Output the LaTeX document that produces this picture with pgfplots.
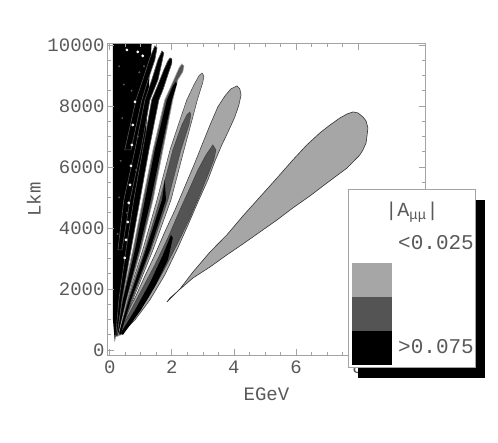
\documentclass[border=0pt]{standalone}
\usepackage{pgfplots}
\pgfplotsset{compat=1.18}
\usepackage{fontspec}
\setmainfont{Liberation Mono}
\definecolor{lightg}{gray}{0.65}
\definecolor{darkg}{gray}{0.33}
\definecolor{framec}{gray}{0.64}
\definecolor{txt}{gray}{0.35}

\begin{document}
\begin{tikzpicture}[x=1pt,y=1pt]
\useasboundingbox (-108,-87) rectangle (390,355);
\begin{axis}[
  at={(0,0)}, anchor=south west,
  scale only axis, width=317pt, height=311pt,
  xmin=-0.06, xmax=10.16, ymin=-165, ymax=10030,
  axis line style={framec, line width=1pt},
  tick style={framec, line width=0.8pt},
  tick align=inside, tick pos=both,
  major tick length=6pt, minor tick length=3pt,
  xtick={0,2,...,8}, ytick={0,2000,...,10000},
  minor x tick num=3, minor y tick num=3,
  scaled ticks=false,
  /pgf/number format/assume math mode=true,
  /pgf/number format/1000 sep={},
  ticklabel style={font=\fontsize{19}{20}\selectfont, text=txt},
  xticklabel style={yshift=-2pt},
  xlabel={EGeV}, ylabel={Lkm},
  label style={font=\fontsize{19}{20}\selectfont, text=txt},
  xlabel style={yshift=-7pt},
  axis on top,
]
% lobe 1
\addplot[fill=lightg, draw=black!80, line width=0.6pt] coordinates {
(1.84,1574) (2.26,2000) (2.68,2557) (3.23,3213) (3.77,3770) (4.29,4393)
(4.84,5016) (5.39,5639) (5.90,6230) (6.35,6721) (6.77,7115) (7.10,7377)
(7.42,7607) (7.65,7738) (7.84,7803) (8.00,7770) (8.16,7639) (8.26,7508)
(8.32,7279) (8.29,7016) (8.26,6787) (8.16,6557) (8.06,6393) (7.65,5967)
(7.00,5475) (6.45,5049) (5.90,4656) (5.39,4262) (4.84,3869) (4.29,3475)
(3.77,3115) (3.23,2721) (2.68,2361) (2.16,1902) (1.94,1705)
} -- cycle;
% lobe 2
\addplot[fill=lightg, draw=black!75, line width=0.6pt] coordinates {
(0.26,557) (0.48,1049) (0.81,1705) (1.13,2426) (1.45,3115) (1.77,3869)
(2.10,4590) (2.48,5508) (2.74,6131) (2.97,6721) (3.23,7377) (3.48,7967)
(3.71,8328) (3.90,8557) (4.10,8656) (4.19,8557) (4.23,8361) (4.16,8033)
(4.03,7639) (3.84,7213) (3.61,6721) (3.39,6197) (3.16,5574) (2.84,4852)
(2.52,4098) (2.19,3344) (1.77,2459) (1.29,1639) (0.81,984) (0.39,557)
} -- cycle;
\addplot[fill=darkg, draw=black!75, line width=0.5pt] coordinates {
(3.32,6721) (3.42,6557) (3.35,6230) (3.16,5738) (2.90,5082) (2.58,4328)
(2.19,3508) (1.71,2557) (1.23,1705) (0.71,918) (0.35,492) (0.29,557)
(0.48,918) (0.97,1869) (1.45,2787) (1.87,3672) (2.26,4590) (2.58,5311)
(2.84,5902) (3.10,6393)
} -- cycle;
\addplot[fill=black, draw=none] coordinates {
(1.97,3770) (1.71,3115) (1.29,2197) (0.81,1311) (0.35,557)
(0.42,492) (1.00,1311) (1.48,2131) (1.87,2951) (2.03,3672)
} -- cycle;
% lobe 3
\addplot[fill=lightg, draw=black!75, line width=0.5pt] coordinates {
(0.23,459) (0.55,1639) (1.06,3279) (1.52,4918) (1.94,6557) (2.26,7541)
(2.48,8197) (2.71,8689) (2.87,8984) (2.97,9082) (3.03,8984) (3.00,8787)
(2.94,8590) (2.82,8197) (2.65,7541) (2.39,6557) (1.97,4918) (1.39,3279)
(0.74,1639) (0.29,459)
} -- cycle;
\addplot[fill=darkg, draw=black!75, line width=0.4pt] coordinates {
(0.29,525) (0.58,1639) (1.13,3279) (1.61,4918) (2.03,6557) (2.32,7377)
(2.48,7705) (2.58,7803) (2.61,7705) (2.55,7377) (2.29,6557) (1.87,4918)
(1.32,3279) (0.71,1639) (0.32,492)
} -- cycle;
\addplot[fill=black, draw=none] coordinates {
(1.77,5574) (1.68,4918) (1.16,3279) (0.61,1639) (0.29,557)
(0.35,525) (0.68,1639) (1.29,3279) (1.81,4918)
} -- cycle;
% lobe 4
\addplot[fill=darkg, draw=lightg, line width=0.6pt] coordinates {
(0.19,459) (0.39,1639) (0.74,3279) (1.06,4918) (1.39,6557) (1.77,8197)
(2.06,8852) (2.23,9246) (2.32,9377) (2.39,9311) (2.35,9115) (2.19,8852)
(2.03,8197) (1.71,6557) (1.39,4918) (1.00,3279) (0.55,1639) (0.26,459)
} -- cycle;
\addplot[fill=black, draw=none] coordinates {
(0.23,492) (0.42,1639) (0.81,3279) (1.13,4918) (1.45,6557) (1.84,8197)
(2.03,8656) (2.13,8787) (2.16,8721) (2.00,8197) (1.65,6557) (1.32,4918)
(0.94,3279) (0.52,1639) (0.26,492)
} -- cycle;
% dense region of narrow lobes
\addplot[fill=black, draw=none] coordinates {
(0.10,10100) (1.35,10100) (1.23,8197) (1.13,6557) (0.90,4918) (0.65,3279)
(0.35,1639) (0.19,492) (0.16,262) (0.10,984)
} -- cycle;
% lobe 5
\addplot[fill=black, draw=darkg, line width=0.6pt] coordinates {
(0.19,459) (0.29,1639) (0.52,3279) (0.77,4918) (1.06,6557) (1.35,8197)
(1.55,8689) (1.74,9180) (1.87,9475) (1.94,9574) (2.00,9541) (2.00,9410)
(1.87,9016) (1.71,8525) (1.58,8197) (1.26,6557) (0.97,4918) (0.68,3279)
(0.39,1639) (0.23,459)
} -- cycle;
% lobe 6
\addplot[fill=black, draw=darkg, line width=0.6pt] coordinates {
(0.26,3279) (0.45,4918) (0.81,6557) (1.13,8197) (1.35,8852) (1.55,9508)
(1.68,9803) (1.74,9738) (1.68,9443) (1.55,8852) (1.29,8197) (1.00,6557)
(0.65,4918) (0.39,3279)
} -- cycle;
% lobe 7
\addplot[fill=black, draw=darkg, line width=0.6pt] coordinates {
(0.48,6557) (0.84,8197) (1.06,8852) (1.29,9574) (1.45,9967) (1.52,9902)
(1.45,9508) (1.23,8852) (1.03,8197) (0.68,6557)
} -- cycle;
% white speckles in the dense region
\addplot[only marks, mark=*, mark size=1.2pt, white] coordinates {
(0.81,8131) (0.74,7377) (0.71,6721) (0.68,6033) (0.65,5410) (0.61,4820)
(0.58,4197) (0.52,3607) (0.48,3016) (0.90,9770) (1.06,9639) (0.55,9836)
};
\addplot[only marks, mark=*, mark size=0.8pt, darkg] coordinates {
(0.30,9300) (0.45,8700) (0.95,9100) (0.40,7600) (0.90,7000) (0.35,6200)
(0.85,5900) (0.30,5000) (0.55,4500) (0.70,8500) (0.25,3800) (1.10,9300)
};
\end{axis}
% legend
\fill[black] (250,-23) rectangle (377,155);
\draw[framec, fill=white, line width=1pt] (240,-12) rectangle (367,165);
\fill[lightg] (244,58) rectangle (284,92);
\fill[darkg] (244,24) rectangle (284,58);
\fill[black] (244,-10) rectangle (284,24);
\node[text=txt, font=\fontsize{20}{21}\selectfont] at (304,143) {|A\textsubscript{μμ}|};
\node[text=txt, anchor=west, inner sep=0pt, font=\fontsize{21}{22}\selectfont] at (290,112) {<0.025};
\node[text=txt, anchor=west, inner sep=0pt, font=\fontsize{21}{22}\selectfont] at (290,8) {>0.075};
\end{tikzpicture}
\end{document}
